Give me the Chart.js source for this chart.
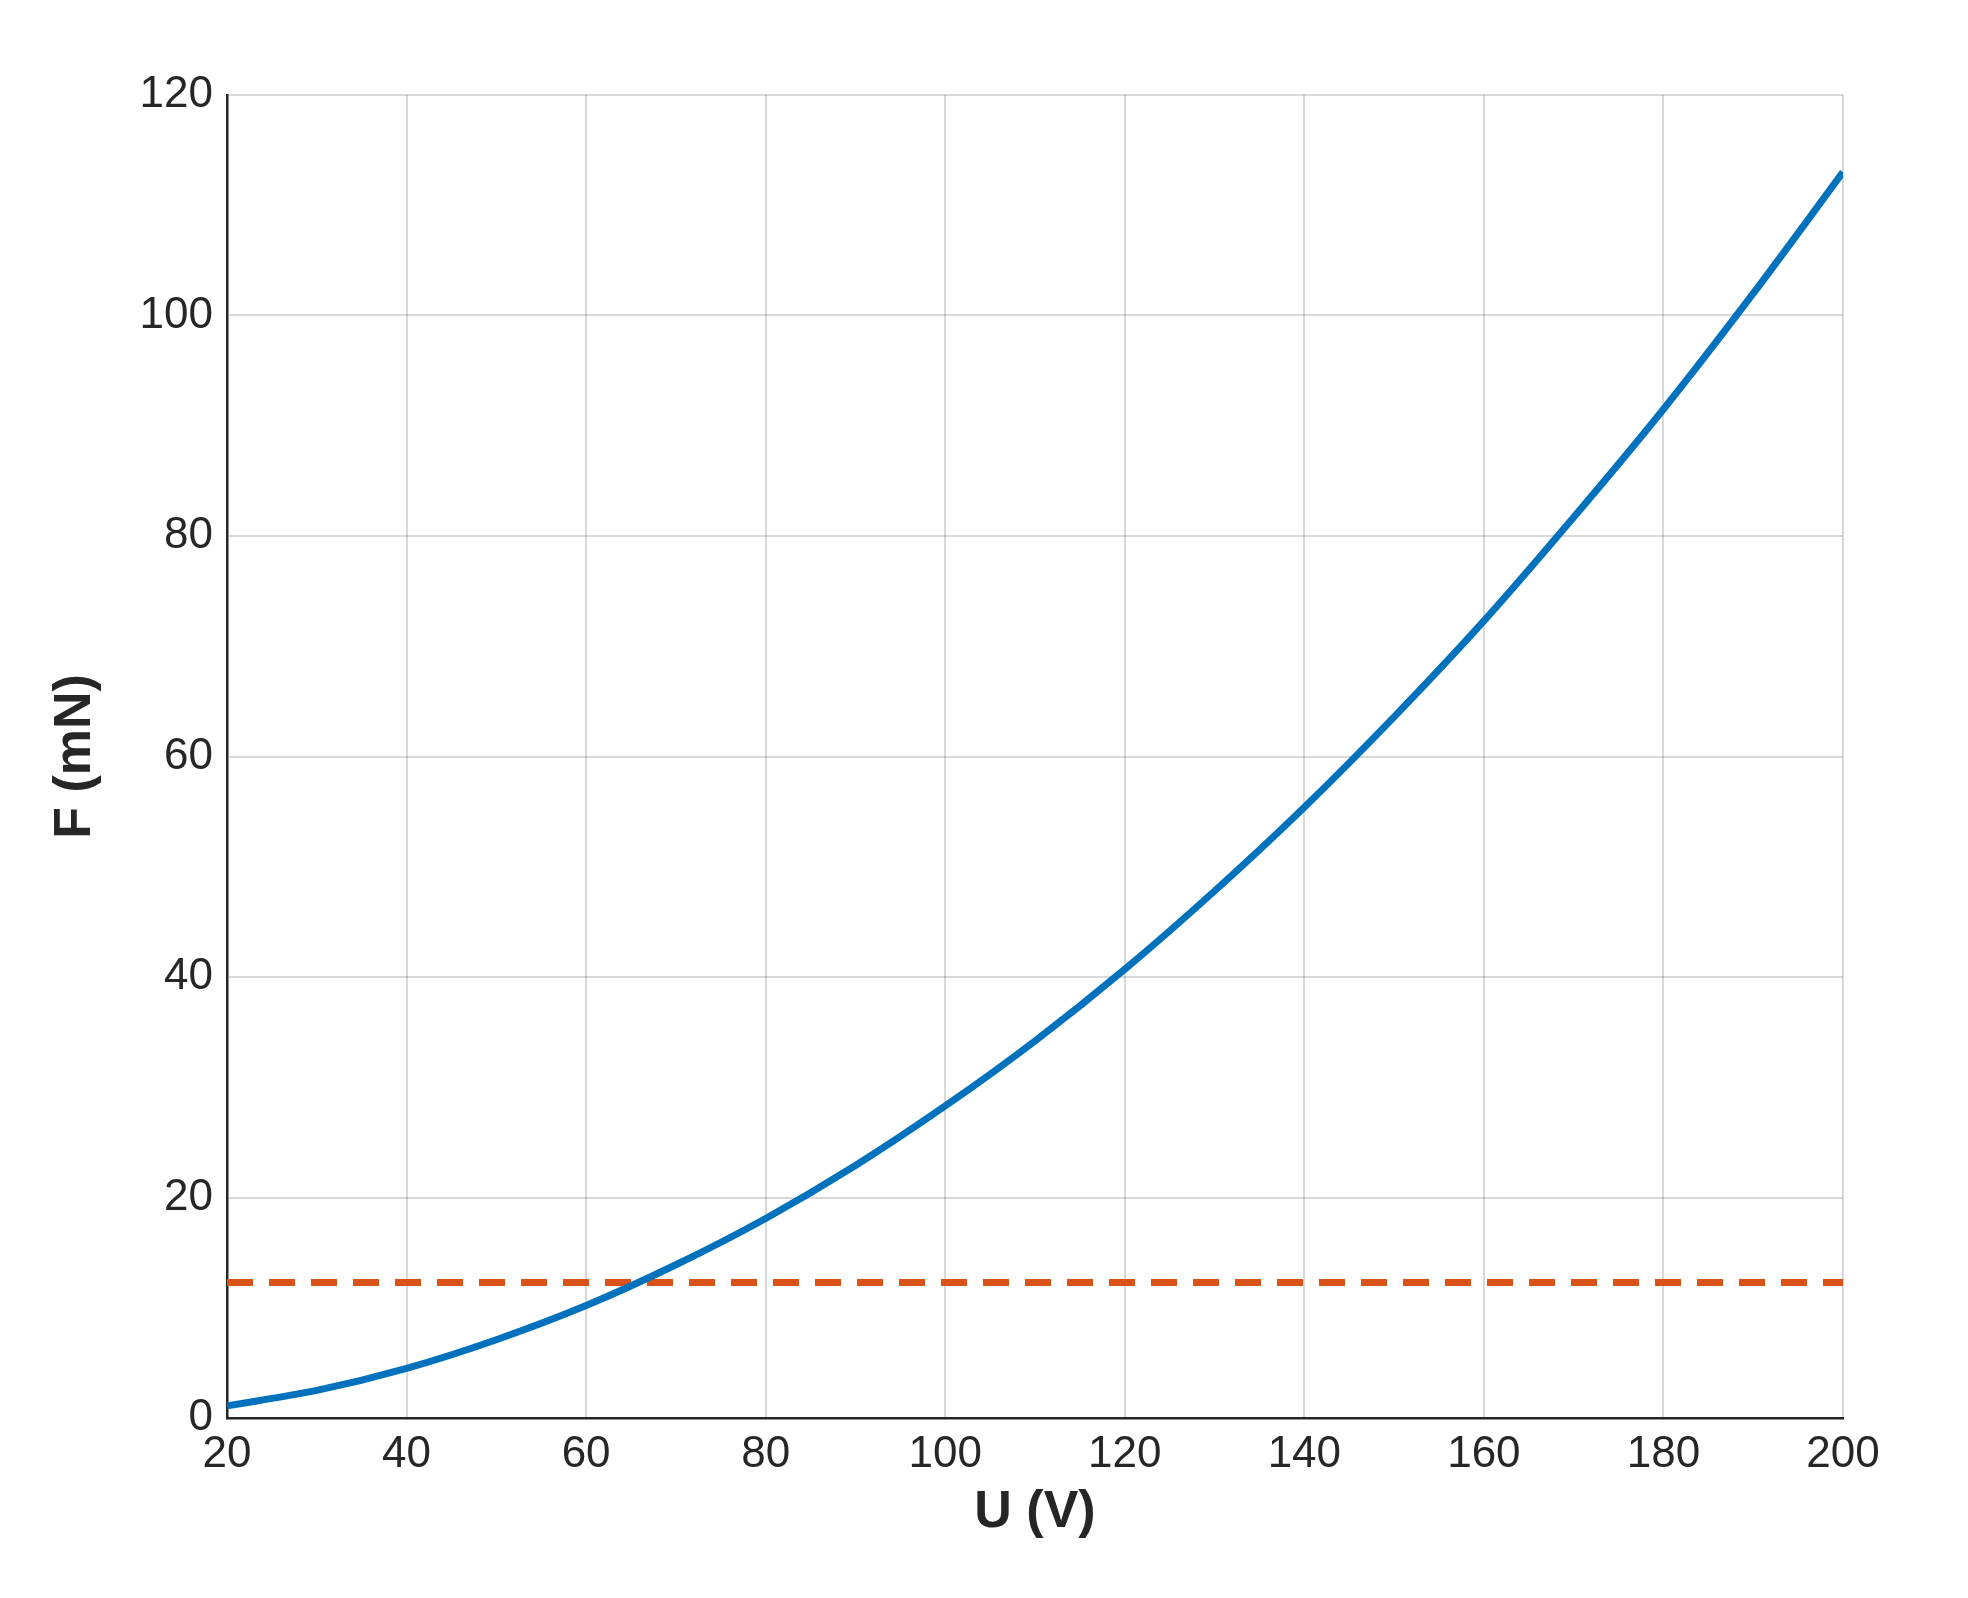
<!DOCTYPE html>
<html><head><style>html,body{margin:0;background:#fff}#w{width:1968px;height:1598px}</style>
<script src="https://cdn.jsdelivr.net/npm/chart.js@4"></script></head>
<body><div id="w"><canvas id="c"></canvas></div>
<script>
const voltages=[20,30,40,50,60,70,80,90,100,110,120,130,140,150,160,170,180,190,200];
const force=[1.1,2.5,4.5,7.1,10.2,13.9,18.1,22.9,28.3,34.2,40.7,47.8,55.4,63.6,72.3,81.7,91.5,102,113];
const thresholdX=[20,200];
const thresholdY=[12.3,12.3];
const font='Arial, "Liberation Sans", sans-serif';
new Chart(document.getElementById('c'),{
type:'line',
data:{datasets:[
{data:voltages.map((x,i)=>({x,y:force[i]})),borderColor:'#0072BD',borderWidth:7,pointRadius:0,tension:0.3},
{data:thresholdX.map((x,i)=>({x,y:thresholdY[i]})),borderColor:'#D95319',borderWidth:7,borderDash:[26,16],pointRadius:0}
]},
options:{responsive:true,maintainAspectRatio:false,animation:false,
layout:{padding:{left:40,top:95,right:125,bottom:50}},
plugins:{legend:{display:false},tooltip:{enabled:false}},
scales:{
x:{type:'linear',min:20,max:200,
 ticks:{stepSize:20,color:'#262626',font:{family:font,size:44},padding:10},
 grid:{color:'rgba(0,0,0,0.15)',lineWidth:2,tickLength:0},
 border:{color:'#262626',width:2.5},
 title:{display:true,text:'U (V)',color:'#262626',font:{family:font,size:52,weight:'bold'},padding:{top:2}},
 afterFit:s=>{s.height=1598-1418-50;}},
y:{min:0,max:120,
 ticks:{stepSize:20,color:'#262626',font:{family:font,size:44},padding:14},
 grid:{color:'rgba(0,0,0,0.15)',lineWidth:2,tickLength:0},
 border:{color:'#262626',width:2.5},
 title:{display:true,text:'F (mN)',color:'#262626',font:{family:font,size:52,weight:'bold'},padding:{bottom:20}},
 afterFit:s=>{s.width=227-40;}}
}}});
</script></body></html>
